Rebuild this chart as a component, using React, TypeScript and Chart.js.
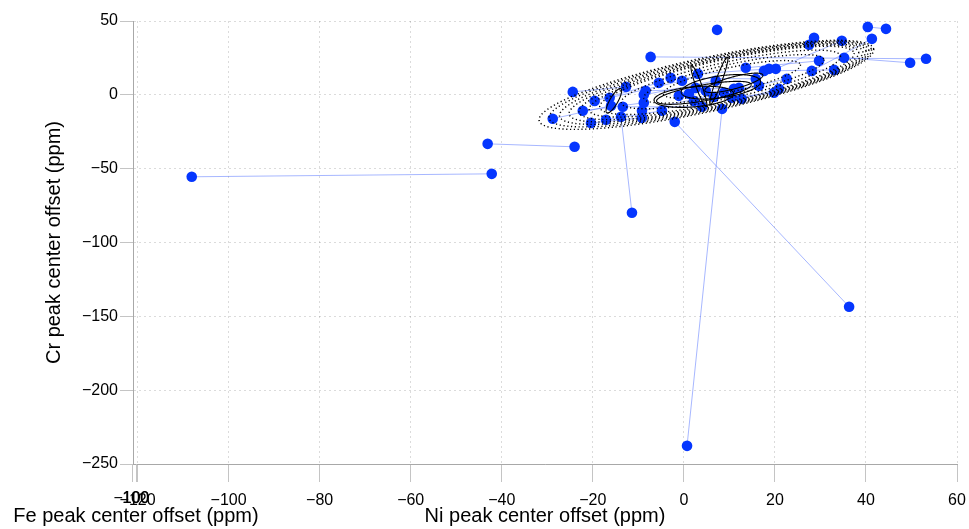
import React, { useEffect, useRef } from "react";
import { Chart, registerables } from "chart.js";

Chart.register(...registerables);

// ---- Data: paired measurements (A -> B), Ni offset (x) vs Cr offset (y), ppm ----
const niA = [-108.1, -43.1, -11.4, 36.3, 0.7, -7.3, 49.7, -24.4, 40.4, 41.3, -28.8, -19.6, -16.3, -22.2, -20.4, -17.1, -13.4, -8.4, -8.8, -2.9, 3.1, 13.6, 17.6, 20.2, 27.5, 10.5, 12.7, 1.1, 4.8, -9.2, 8.8, 6.6];
const crA = [-55.5, -33.2, -79.9, -143.5, -237.7, 25.7, 21.7, 2.0, 46.0, 37.9, -16.2, -4.1, -2.0, -10.8, -19.0, -16.9, -8.1, 2.7, 0.0, 11.5, 14.2, 18.3, 16.2, 17.6, 33.9, -2.0, -2.7, 0.7, 2.7, -10.8, 1.4, -1.4];
const niB = [-42.2, -24.0, -13.8, -2.0, 8.4, 53.2, 35.2, -12.7, 44.4, 28.1, -16.0, -5.5, -0.4, -8.8, -9.2, -4.8, 4.0, 12.1, 7.0, 15.8, 18.7, 29.7, 33.0, 34.7, 28.6, 19.8, 20.9, 2.6, -1.1, 22.6, 16.5, 11.0];
const crB = [-53.5, -35.2, -14.9, -18.3, -9.5, 24.4, 25.1, 5.4, 44.7, 16.2, -7.4, 8.1, 9.5, -5.4, -15.6, -10.8, -8.1, 4.7, 9.5, 10.8, 17.6, 23.0, 16.9, 36.6, 38.6, 1.4, 4.1, 4.7, -0.7, 10.8, 6.1, 4.1];
const niSingle = [7.3, 2.2];
const crSingle = [44.0, -4.1];

// Ellipses (dotted family + solid inner ones): centre, end of major semi-axis, end of minor semi-axis (data units)
const dotCx = [4.95, 5.8, 6.66, 7.4, 8.13, 8.8, 9.45, 10.33, 10.99, 10.55];
const dotCy = [6.77, 7.35, 7.92, 8.36, 8.8, 9.3, 9.82, 10.43, 10.83, 10.49];
const dotMajX = [41.69, 41.2, 40.62, 40.0, 39.3, 38.4, 37.38, 34.4, 30.77, 25.6];
const dotMajY = [31.08, 30.75, 30.4, 29.9, 29.42, 28.9, 28.3, 26.34, 23.9, 20.45];
const dotMinX = [6.2, 7.0, 7.81, 8.5, 9.19, 9.8, 10.42, 11.16, 11.69, 11.1];
const dotMinY = [-11.1, -9.9, -8.63, -7.5, -6.43, -5.2, -4.06, -1.49, 0.88, 2.57];

const solCx = [4.4, 8.13, 10.99, 2.2, 7.69, 3.3, -15.38];
const solCy = [1.35, 5.42, 8.12, -1.35, 9.48, 6.09, -4.06];
const solMajX = [14.79, 16.84, 17.36, 10.95, 9.58, 1.65, -13.85];
const solMajY = [7.01, 9.21, 13.41, 1.02, 25.39, 20.11, 4.13];
const solMinX = [4.7, 8.46, 11.33, 2.4, 8.31, 3.91, -14.62];
const solMinY = [-3.99, -1.96, 4.2, -8.12, 8.8, 6.77, -5.42];

// Axis ticks
const niTicks = [-120, -100, -80, -60, -40, -20, 0, 20, 40, 60];
const crTicks = [-250, -200, -150, -100, -50, 0, 50];
const feTicks = [-100, 100];

const X_TITLE = "Ni peak center offset (ppm)";
const Y_TITLE = "Cr peak center offset (ppm)";
const FE_TITLE = "Fe peak center offset (ppm)";

const FONT = "'Liberation Sans', Arial, Helvetica, sans-serif";
const fmt = (v: number) => (v < 0 ? "\u2212" + Math.abs(v) : String(v));

const ellipsePlugin = {
  id: "ellipses",
  afterDatasetsDraw(chart: any) {
    const { ctx, scales } = chart;
    const xs = scales.x, ys = scales.y;
    const draw = (cx: number, cy: number, mx: number, my: number, nx: number, ny: number) => {
      const c = [xs.getPixelForValue(cx), ys.getPixelForValue(cy)];
      const m = [xs.getPixelForValue(mx) - c[0], ys.getPixelForValue(my) - c[1]];
      const n = [xs.getPixelForValue(nx) - c[0], ys.getPixelForValue(ny) - c[1]];
      ctx.beginPath();
      const N = 240;
      for (let i = 0; i <= N; i++) {
        const t = (i / N) * Math.PI * 2;
        const px = c[0] + Math.cos(t) * m[0] + Math.sin(t) * n[0];
        const py = c[1] + Math.cos(t) * m[1] + Math.sin(t) * n[1];
        if (i === 0) ctx.moveTo(px, py); else ctx.lineTo(px, py);
      }
      ctx.stroke();
    };
    ctx.save();
    ctx.strokeStyle = "#000";
    ctx.lineWidth = 1.4;
    ctx.setLineDash([1.2, 2.6]);
    for (let i = 0; i < dotCx.length; i++) draw(dotCx[i], dotCy[i], dotMajX[i], dotMajY[i], dotMinX[i], dotMinY[i]);
    ctx.setLineDash([]);
    ctx.lineWidth = 1.1;
    for (let i = 0; i < solCx.length; i++) draw(solCx[i], solCy[i], solMajX[i], solMajY[i], solMinX[i], solMinY[i]);
    ctx.restore();
  },
};

const feAxisPlugin = {
  id: "feAxis",
  afterDraw(chart: any) {
    const { ctx } = chart;
    const xs = chart.scales.x;
    ctx.save();
    ctx.strokeStyle = "#c4c4c4";
    ctx.lineWidth = 1;
    ctx.fillStyle = "#000";
    ctx.font = "16px " + FONT;
    ctx.textAlign = "center";
    ctx.textBaseline = "top";
    feTicks.forEach((v) => {
      const px = Math.round(xs.left - 1 + (v - feTicks[0]) * 0.02) + 0.5;
      ctx.beginPath();
      ctx.moveTo(px, xs.top);
      ctx.lineTo(px, xs.top + 18);
      ctx.stroke();
      ctx.fillText(fmt(v), px - 1, xs.top + 27);
    });
    ctx.font = "20px " + FONT;
    ctx.textBaseline = "middle";
    ctx.fillText(FE_TITLE, xs.left + 3, xs.bottom - 13);
    ctx.restore();
  },
};

export default function App() {
  const ref = useRef<HTMLCanvasElement>(null);
  useEffect(() => {
    if (!ref.current) return;
    Chart.defaults.font.family = FONT;
    Chart.defaults.color = "#000";

    const pts = niA.map((x, i) => ({ x, y: crA[i] }))
      .concat(niB.map((x, i) => ({ x, y: crB[i] })))
      .concat(niSingle.map((x, i) => ({ x, y: crSingle[i] })));
    const segs: any[] = [];
    niA.forEach((x, i) => {
      segs.push({ x, y: crA[i] });
      segs.push({ x: niB[i], y: crB[i] });
      segs.push({ x: NaN, y: null });
    });

    const gridCommon = {
      color: "rgba(0,0,0,0.14)",
      lineWidth: 1,
      tickColor: "#c4c4c4",
      tickBorderDash: [],
    };

    const chart = new Chart(ref.current, {
      type: "scatter",
      data: {
        datasets: [
          {
            data: pts,
            backgroundColor: "#0536ff",
            borderWidth: 0,
            pointRadius: 5.3,
            showLine: false,
          },
          {
            data: segs,
            showLine: true,
            spanGaps: false,
            borderColor: "rgba(60,95,255,0.45)",
            borderWidth: 1,
            pointRadius: 0,
          },
        ],
      },
      options: {
        animation: false,
        responsive: false,
        devicePixelRatio: 1,
        layout: { padding: { top: 21, right: 12, left: 0, bottom: 0 } },
        plugins: { legend: { display: false }, tooltip: { enabled: false } },
        scales: {
          x: {
            type: "linear",
            min: -121,
            max: 60,
            afterBuildTicks: (s: any) => {
              s.ticks = niTicks.map((v) => ({ value: v }));
            },
            afterFit: (s: any) => {
              s.height = 65;
              s.paddingLeft = 0;
              s.paddingRight = 0;
            },
            ticks: {
              font: { size: 16 },
              color: "#000",
              padding: 9,
              maxRotation: 0,
              autoSkip: false,
              callback: (v: any) => fmt(Number(v)),
            },
            grid: { ...gridCommon, tickLength: 18 },
            border: { display: true, color: "#a8a8a8", width: 1, dash: [2, 3] },
            title: {
              display: true,
              text: X_TITLE,
              font: { size: 20 },
              color: "#000",
              padding: { top: 0, bottom: 1 },
            },
          },
          y: {
            type: "linear",
            min: -250,
            max: 50,
            afterBuildTicks: (s: any) => {
              s.ticks = crTicks.map((v) => ({ value: v }));
            },
            afterFit: (s: any) => {
              s.width = 133;
              s.paddingTop = 0;
              s.paddingBottom = 0;
            },
            ticks: {
              font: { size: 16 },
              color: "#000",
              padding: 2,
              autoSkip: false,
              callback: (v: any) => fmt(Number(v)),
            },
            grid: { ...gridCommon, tickLength: 13 },
            border: { display: true, color: "#a8a8a8", width: 1, dash: [2, 3] },
            title: {
              display: true,
              text: Y_TITLE,
              font: { size: 20 },
              color: "#000",
              padding: { top: 42, bottom: 0 },
            },
          },
        },
      } as any,
      plugins: [ellipsePlugin, feAxisPlugin],
    } as any);
    return () => chart.destroy();
  }, []);

  return (
    <div style={{ position: "fixed", left: 0, top: 0, width: 969, height: 529, background: "#fff" }}>
      <canvas ref={ref} width={969} height={529} style={{ display: "block" }} />
    </div>
  );
}
